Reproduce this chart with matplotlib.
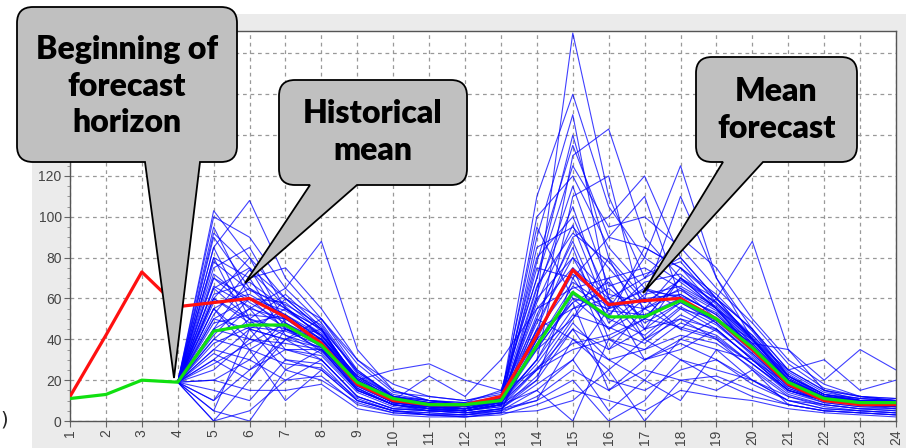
import matplotlib
matplotlib.use('Agg')
import matplotlib.pyplot as plt
import numpy as np
from matplotlib.path import Path
from matplotlib.patches import PathPatch, Rectangle
from matplotlib.ticker import MultipleLocator

W, H = 906, 448

hours = list(range(1, 25))
forecast_hours = list(range(4, 25))
y_ticks = list(range(0, 200, 20))
y_labels = [str(v) if v <= 120 else '' for v in y_ticks]  # upper ones sit under the callout

# historical mean (red) and mean forecast (green)
hist_mean = [12, 42, 73, 56, 58, 60, 51, 38, 18, 10, 8, 8, 12, 42, 74, 57, 59, 60, 50, 35, 18, 10, 8, 8]
mean_forecast = [11, 13, 20, 19, 44, 47, 47, 37, 19, 11, 8, 8, 10, 37, 63, 51, 51, 59, 50, 36, 19, 11, 9, 9]

# forecast ensemble members, hours 4..24
ensemble = [
    [19, 103, 80, 60, 45, 20, 12, 8, 6, 10, 60, 190, 110, 70, 80, 60, 40, 20, 12, 10, 10],
    [19, 95, 60, 45, 40, 22, 10, 6, 5, 8, 90, 150, 60, 40, 50, 45, 30, 15, 10, 8, 8],
    [19, 85, 108, 70, 50, 25, 12, 10, 8, 12, 40, 130, 143, 90, 70, 55, 35, 18, 10, 9, 8],
    [19, 80, 70, 75, 55, 30, 15, 10, 9, 15, 70, 140, 80, 60, 110, 70, 40, 20, 12, 10, 9],
    [19, 75, 85, 55, 45, 25, 12, 8, 7, 10, 30, 110, 120, 50, 60, 50, 35, 20, 12, 10, 10],
    [19, 70, 55, 65, 88, 35, 15, 10, 8, 12, 50, 90, 100, 120, 80, 60, 45, 25, 15, 12, 10],
    [19, 65, 75, 60, 50, 30, 18, 12, 10, 14, 80, 100, 60, 70, 90, 75, 50, 30, 18, 12, 11],
    [19, 60, 50, 45, 35, 15, 8, 5, 5, 8, 20, 70, 90, 110, 60, 50, 40, 20, 10, 8, 8],
    [19, 55, 65, 55, 45, 20, 10, 7, 6, 10, 45, 85, 40, 50, 70, 60, 88, 35, 15, 10, 10],
    [19, 50, 45, 40, 30, 12, 6, 5, 4, 6, 10, 40, 30, 20, 40, 35, 30, 15, 10, 8, 7],
    [19, 45, 55, 50, 40, 20, 10, 8, 8, 12, 35, 60, 45, 55, 65, 55, 40, 22, 12, 10, 10],
    [19, 40, 35, 45, 38, 18, 10, 6, 6, 9, 25, 50, 70, 40, 55, 45, 30, 18, 10, 8, 8],
    [19, 35, 50, 30, 25, 10, 5, 4, 3, 5, 15, 30, 55, 60, 45, 40, 25, 12, 8, 6, 5],
    [19, 30, 45, 55, 42, 22, 12, 10, 8, 10, 60, 80, 50, 85, 75, 60, 45, 25, 15, 12, 10],
    [19, 25, 40, 38, 35, 15, 8, 6, 5, 8, 40, 75, 35, 45, 50, 40, 28, 15, 10, 8, 7],
    [19, 20, 30, 50, 40, 20, 10, 8, 6, 10, 30, 55, 60, 30, 40, 50, 35, 20, 12, 10, 9],
    [19, 10, 25, 35, 30, 12, 6, 5, 4, 6, 20, 45, 20, 15, 25, 30, 20, 10, 8, 6, 5],
    [19, 0, 20, 40, 45, 18, 10, 7, 5, 8, 15, 0, 40, 30, 35, 45, 30, 15, 10, 8, 6],
    [19, 5, 0, 25, 35, 15, 8, 5, 4, 5, 10, 20, 0, 10, 30, 25, 20, 10, 6, 5, 4],
    [19, 15, 10, 30, 28, 10, 5, 3, 3, 4, 5, 10, 25, 0, 20, 15, 25, 8, 5, 4, 3],
    [19, 90, 65, 50, 42, 22, 12, 8, 7, 10, 100, 120, 85, 65, 55, 50, 38, 20, 12, 10, 9],
    [19, 70, 60, 52, 40, 20, 10, 7, 6, 9, 85, 95, 75, 55, 75, 55, 35, 18, 11, 9, 9],
    [19, 60, 80, 48, 38, 18, 9, 7, 6, 8, 65, 105, 55, 65, 60, 48, 33, 17, 10, 9, 8],
    [19, 55, 40, 60, 45, 20, 10, 8, 7, 10, 55, 65, 70, 75, 65, 50, 36, 20, 12, 10, 9],
    [19, 45, 70, 42, 36, 16, 8, 6, 5, 8, 45, 55, 65, 50, 70, 58, 40, 22, 13, 10, 9],
    [19, 50, 60, 58, 44, 21, 11, 9, 8, 11, 75, 70, 45, 60, 62, 52, 37, 19, 12, 10, 10],
    [19, 30, 20, 45, 40, 18, 9, 7, 6, 9, 35, 50, 80, 45, 58, 48, 32, 16, 10, 8, 8],
    [19, 40, 55, 35, 32, 14, 7, 5, 5, 7, 25, 35, 40, 35, 48, 42, 28, 14, 9, 7, 7],
    [19, 65, 50, 62, 46, 24, 13, 10, 9, 12, 95, 60, 55, 80, 68, 55, 42, 24, 14, 11, 10],
    [19, 35, 30, 20, 22, 8, 4, 3, 2, 4, 12, 25, 15, 25, 20, 22, 15, 8, 5, 4, 3],
    [19, 20, 15, 15, 18, 6, 3, 2, 2, 3, 8, 15, 10, 5, 15, 12, 10, 6, 4, 3, 2],
    [19, 10, 35, 10, 25, 10, 5, 3, 2, 4, 50, 40, 25, 40, 30, 20, 12, 8, 5, 4, 3],
    [19, 80, 45, 40, 50, 28, 14, 12, 10, 13, 70, 125, 95, 100, 85, 65, 48, 28, 16, 12, 11],
    [19, 0, 5, 20, 30, 12, 6, 5, 4, 6, 18, 30, 5, 20, 10, 35, 20, 12, 7, 5, 4],
    [19, 100, 90, 65, 48, 24, 12, 9, 8, 11, 110, 160, 105, 80, 125, 70, 45, 22, 13, 11, 10],
    [19, 45, 40, 35, 35, 20, 25, 28, 20, 15, 25, 45, 35, 55, 45, 60, 40, 25, 30, 15, 20],
    [19, 60, 48, 52, 42, 20, 10, 22, 12, 30, 55, 75, 60, 45, 70, 55, 38, 35, 20, 35, 25],
    [19, 62, 68, 55, 42, 20, 10, 8, 7, 10, 48, 80, 62, 58, 64, 54, 38, 20, 12, 9, 9],
    [19, 58, 62, 52, 40, 19, 10, 7, 6, 9, 42, 72, 58, 55, 62, 52, 36, 19, 11, 9, 8],
    [19, 48, 52, 50, 38, 18, 9, 7, 6, 9, 38, 66, 54, 52, 60, 50, 35, 18, 11, 9, 8],
    [19, 72, 58, 48, 36, 17, 9, 6, 5, 8, 52, 88, 48, 62, 66, 56, 39, 21, 12, 10, 9],
    [19, 52, 74, 56, 41, 19, 10, 8, 7, 10, 36, 58, 68, 48, 58, 49, 34, 17, 10, 8, 8],
    [19, 38, 46, 44, 37, 17, 9, 7, 6, 9, 30, 62, 50, 42, 56, 47, 33, 17, 10, 8, 7],
    [19, 66, 56, 46, 34, 16, 8, 6, 5, 8, 58, 96, 52, 68, 72, 57, 40, 21, 12, 10, 9],
    [19, 28, 38, 48, 39, 18, 9, 7, 6, 9, 28, 52, 46, 38, 52, 44, 31, 16, 10, 8, 7],
    [19, 85, 50, 42, 33, 15, 8, 6, 5, 7, 62, 115, 66, 72, 78, 58, 41, 22, 13, 10, 9],
    [19, 42, 60, 54, 43, 21, 11, 9, 8, 11, 44, 68, 56, 64, 61, 53, 37, 20, 12, 10, 9],
    [19, 55, 35, 28, 26, 11, 5, 4, 3, 6, 22, 48, 30, 35, 42, 38, 26, 13, 8, 6, 6],
    [19, 78, 64, 57, 47, 23, 12, 9, 8, 11, 66, 92, 78, 58, 69, 58, 42, 23, 13, 11, 10],
    [19, 33, 25, 40, 36, 16, 8, 6, 5, 8, 26, 38, 42, 50, 46, 41, 28, 15, 9, 7, 6],
    [19, 5, 45, 25, 20, 9, 4, 3, 3, 5, 40, 58, 15, 30, 38, 30, 18, 10, 6, 5, 4],
    [19, 92, 75, 45, 38, 19, 9, 7, 6, 9, 78, 135, 90, 85, 75, 62, 44, 22, 13, 10, 9],
]

fig = plt.figure(figsize=(W / 100, H / 100), dpi=100)
fig.patch.set_facecolor('white')
# light grey panel behind the chart
fig.add_artist(Rectangle((32 / W, 0), 1 - 32 / W, 1 - 14 / H, transform=fig.transFigure,
                         facecolor='#ebebeb', edgecolor='none', zorder=-1))

ax = fig.add_axes([70 / W, 1 - 421 / H, (896 - 70) / W, (421 - 31) / H])
ax.set_facecolor('white')

for member in ensemble:
    ax.plot(forecast_hours, member, color='#0000ff', lw=0.8, alpha=0.75, zorder=2)
ax.plot(hours, hist_mean, color='#ff1010', lw=2.3, zorder=3)
ax.plot(hours, mean_forecast, color='#10e010', lw=2.3, zorder=4)

ax.set_xlim(1, 24)
ax.set_ylim(0, 191)
ax.set_xticks(hours)
ax.set_yticks(y_ticks)
ax.set_yticklabels(y_labels)
ax.yaxis.set_minor_locator(MultipleLocator(5))
ax.grid(True, which='major', color='#999999', lw=0.9, ls=(0, (3, 3)))
ax.tick_params(axis='both', which='major', direction='out', length=4, width=0.8,
               color='#666666', labelsize=10, labelcolor='#444444', pad=2)
ax.tick_params(axis='y', which='minor', direction='out', length=2, width=0.6, color='#888888')
for lab in ax.get_xticklabels():
    lab.set_rotation(90)
    lab.set_family('Liberation Sans')
for lab in ax.get_yticklabels():
    lab.set_family('Liberation Sans')
for sp in ax.spines.values():
    sp.set_color('#555555')
    sp.set_linewidth(1.0)


def bubble(x0, y0, x1, y1, r, wa, wb, tip):
    # callout outline in pixel coords (y down), wedge on the bottom edge
    pts = [(x0 + r, y0), (x1 - r, y0), (x1, y0), (x1, y0 + r), (x1, y1 - r), (x1, y1),
           (x1 - r, y1), (wb, y1), tip, (wa, y1), (x0 + r, y1), (x0, y1), (x0, y1 - r),
           (x0, y0 + r), (x0, y0), (x0 + r, y0), (x0 + r, y0)]
    codes = [Path.MOVETO, Path.LINETO, Path.CURVE3, Path.CURVE3, Path.LINETO, Path.CURVE3,
             Path.CURVE3, Path.LINETO, Path.LINETO, Path.LINETO, Path.LINETO, Path.CURVE3,
             Path.CURVE3, Path.LINETO, Path.CURVE3, Path.CURVE3, Path.CLOSEPOLY]
    verts = [(x / W, 1 - y / H) for x, y in pts]
    fig.add_artist(PathPatch(Path(verts, codes), transform=fig.transFigure,
                             facecolor='#c0c0c0', edgecolor='black', lw=1.3, zorder=10))


callouts = [
    ((17, 7, 237, 162), (145, 200), (174, 378), 'Beginning of\nforecast\nhorizon', 86),
    ((279, 80, 467, 185), (310, 357), (245, 283), 'Historical\nmean', 132),
    ((696, 57, 857, 162), (723, 763), (643, 293), 'Mean\nforecast', 110),
]
for (x0, y0, x1, y1), (wa, wb), tip, label, yc in callouts:
    bubble(x0, y0, x1, y1, 16, wa, wb, tip)
    fig.text((x0 + x1) / 2 / W, 1 - yc / H, label, ha='center', va='center',
             fontsize=23, fontweight='heavy', family='Lato', linespacing=1.32, zorder=11)

fig.text(0, 1 - 420 / H, ')', fontsize=14, va='center', ha='left', color='#222222')

fig.savefig('out.png', dpi=100)
